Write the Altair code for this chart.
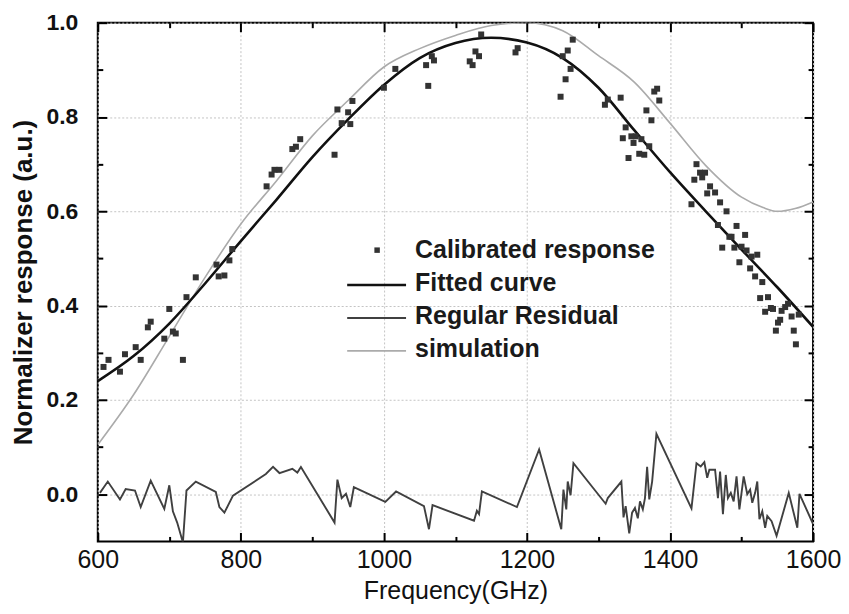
import altair as alt
import pandas as pd

# ---------------- data ----------------
cal_freq = [608, 615, 631, 638, 653, 660, 670, 674, 693, 700, 705, 709, 719, 724, 737, 766, 769, 777, 784, 788,
            836, 843, 847, 854, 872, 877, 883,
            931, 935, 941, 950, 953, 956, 1000, 1016, 1059, 1062, 1067, 1070, 1120, 1124, 1128, 1133, 1136,
            1184, 1187, 1247, 1250, 1254, 1257, 1261, 1264,
            1309, 1313, 1331, 1338, 1334, 1342, 1346, 1349, 1352, 1357, 1360, 1364, 1367, 1371, 1374, 1378, 1382, 1385,
            1430, 1434, 1437, 1442, 1445, 1449, 1452, 1456, 1463, 1470, 1479, 1467, 1493, 1483, 1486, 1505, 1473, 1490, 1500,
            1507, 1514, 1522, 1497, 1512, 1519, 1529, 1526, 1537, 1541, 1544, 1533, 1556, 1561, 1565, 1570, 1580,
            1551, 1554, 1548, 1573, 1576]
cal_resp = [0.27, 0.285, 0.26, 0.297, 0.312, 0.285, 0.354, 0.366, 0.33, 0.393, 0.345, 0.341, 0.285, 0.418, 0.46, 0.487, 0.462, 0.464, 0.496, 0.52,
            0.653, 0.678, 0.688, 0.688, 0.732, 0.737, 0.753,
            0.72, 0.816, 0.787, 0.81, 0.785, 0.834, 0.862, 0.902, 0.91, 0.866, 0.929, 0.92, 0.918, 0.91, 0.939, 0.929, 0.975,
            0.937, 0.946, 0.843, 0.929, 0.88, 0.941, 0.902, 0.964,
            0.826, 0.837, 0.841, 0.778, 0.755, 0.713, 0.759, 0.745, 0.759, 0.722, 0.753, 0.72, 0.814, 0.738, 0.793, 0.854, 0.86, 0.835,
            0.615, 0.667, 0.7, 0.682, 0.672, 0.682, 0.638, 0.653, 0.64, 0.619, 0.6, 0.571, 0.569, 0.546, 0.546, 0.55, 0.523, 0.523, 0.525,
            0.517, 0.504, 0.508, 0.492, 0.479, 0.462, 0.45, 0.416, 0.418, 0.395, 0.393, 0.387, 0.389, 0.397, 0.404, 0.377, 0.381,
            0.364, 0.37, 0.347, 0.347, 0.318]

fit_freq = [600, 650, 700, 750, 800, 850, 900, 950, 1000, 1050, 1100, 1150, 1200, 1250, 1300, 1350, 1400, 1450, 1500, 1550, 1600]
fit_resp = [0.24, 0.293, 0.362, 0.447, 0.537, 0.625, 0.715, 0.795, 0.868, 0.925, 0.957, 0.968, 0.958, 0.925, 0.862, 0.772, 0.683, 0.600, 0.519, 0.439, 0.355]

sim_freq = [600, 650, 700, 750, 800, 850, 900, 950, 1000, 1050, 1100, 1150, 1200, 1250, 1300, 1350, 1400, 1450, 1500, 1530, 1550, 1575, 1600]
sim_resp = [0.105, 0.211, 0.335, 0.46, 0.573, 0.665, 0.76, 0.835, 0.906, 0.945, 0.973, 0.994, 1.0, 0.983, 0.93, 0.874, 0.787, 0.697, 0.63, 0.608, 0.60, 0.606, 0.62]

res_freq = [603, 614, 631, 639, 652, 660, 674, 693, 700, 705, 711, 719, 724, 737, 765, 770, 777, 789, 835, 845, 854, 872, 879, 884,
            931, 935, 941, 947, 953, 958, 1002, 1017, 1056, 1063, 1068, 1126, 1130, 1133, 1137, 1186, 1217, 1248, 1251, 1255,
            1257, 1261, 1265, 1310, 1313, 1332, 1335, 1338, 1343, 1347, 1351, 1355, 1358, 1362, 1365, 1368, 1371, 1375, 1381,
            1430, 1437, 1443, 1448, 1452, 1455, 1463, 1467, 1470, 1474, 1478, 1481, 1485, 1489, 1493, 1497, 1503, 1508, 1512,
            1515, 1519, 1522, 1525, 1529, 1533, 1536, 1542, 1549, 1566, 1578, 1581, 1600]
res_resp = [0.003, 0.027, -0.011, 0.011, 0.008, -0.027, 0.029, -0.031, 0.019, -0.036, -0.06, -0.102, 0.008, 0.027, 0.005, -0.027, -0.039, -0.003,
            0.043, 0.058, 0.045, 0.054, 0.046, 0.058,
            -0.06, 0.031, -0.008, 0.001, -0.027, 0.015, -0.016, 0.006, -0.025, -0.074, -0.023, -0.056, -0.035, -0.042, 0.006, -0.027,
            0.095, -0.074, 0.01, -0.032,
            0.027, -0.002, 0.066, -0.02, -0.008, 0.027, -0.049, -0.025, -0.083, -0.039, -0.029, -0.051, -0.015, -0.032, -0.008, 0.058,
            -0.011, 0.027, 0.128,
            -0.03, 0.066, 0.059, 0.068, 0.035, 0.052, 0.052, -0.008, 0.048, -0.042, 0.041, -0.008, 0.003, -0.015, 0.038, -0.032, 0.038,
            0.0, 0.01,
            -0.018, 0.003, 0.027, -0.053, -0.036, -0.071, -0.046, -0.057, -0.088, 0.003, -0.071, 0.001, -0.063]

x_major = [600, 800, 1000, 1200, 1400, 1600]
x_minor = [700, 900, 1100, 1300, 1500]
y_major = [0.0, 0.2, 0.4, 0.6, 0.8, 1.0]
y_minor = [0.1, 0.3, 0.5, 0.7, 0.9]

legend_labels = ["Calibrated response", "Fitted curve", "Regular Residual", "simulation"]

# ---------------- tables ----------------
cal_df = pd.DataFrame({"f": cal_freq, "v": cal_resp})
fit_df = pd.DataFrame({"f": fit_freq, "v": fit_resp})
sim_df = pd.DataFrame({"f": sim_freq, "v": sim_resp})
res_df = pd.DataFrame({"f": res_freq, "v": res_resp})

FONT = "Liberation Sans"
xs = alt.Scale(domain=[600, 1600], nice=False, zero=False)
ys = alt.Scale(domain=[-0.1, 1.0], nice=False, zero=False)

MAJ = 9
MIN = 5


def tick_axis(orient, values, size, labels=False, title=None, fmt=None, **kw):
    d = dict(orient=orient, values=values, tickSize=size, offset=-size, domain=False, grid=False,
             labels=labels, title=title, tickColor="black", tickWidth=2, zindex=1)
    if fmt:
        d["format"] = fmt
    d.update(kw)
    return alt.Axis(**d)


def grid_axis(orient, values):
    return alt.Axis(orient=orient, values=values, ticks=False, labels=False, domain=False, grid=True,
                    gridColor="#c4c4c4", gridDash=[2, 2], gridWidth=1, title=None)


# grid carrier (invisible)
grid_layer = alt.Chart(res_df).mark_line(opacity=0).encode(
    x=alt.X("f:Q", scale=xs, axis=grid_axis("bottom", x_major)),
    y=alt.Y("v:Q", scale=ys, axis=grid_axis("left", y_major)),
)

residual = alt.Chart(res_df).mark_line(color="#404040", strokeWidth=1.9, clip=True).encode(
    x=alt.X("f:Q", scale=xs, axis=tick_axis(
        "bottom", x_major, MAJ, labels=True, title="Frequency(GHz)", fmt="d",
        labelFont=FONT, labelFontSize=25, labelFontWeight="normal", labelColor="#111",
        labelPadding=6, labelFlush=False,
        titleFont=FONT, titleFontSize=25, titleFontWeight="normal", titleColor="#111", titlePadding=6)),
    y=alt.Y("v:Q", scale=ys, axis=tick_axis(
        "left", y_major, MAJ, labels=True, title="Normalizer response (a.u.)", fmt=".1f",
        labelFont=FONT, labelFontSize=23, labelFontWeight="bold", labelColor="#111",
        labelPadding=20, labelFlush=False,
        titleFont=FONT, titleFontSize=26, titleFontWeight="bold", titleColor="#111", titlePadding=9)),
)

fitted = alt.Chart(fit_df).mark_line(color="#111111", strokeWidth=2.6, interpolate="monotone", clip=True).encode(
    x=alt.X("f:Q", scale=xs, axis=tick_axis("bottom", x_minor, MIN)),
    y=alt.Y("v:Q", scale=ys, axis=tick_axis("left", y_minor, MIN)),
)

simulation = alt.Chart(sim_df).mark_line(color="#ababab", strokeWidth=1.6, interpolate="monotone", clip=True).encode(
    x=alt.X("f:Q", scale=xs, axis=tick_axis("top", x_major, MAJ)),
    y=alt.Y("v:Q", scale=ys, axis=tick_axis("right", y_major, MAJ)),
)

points = alt.Chart(cal_df).mark_point(shape="square", filled=True, size=36, color="#333333", opacity=1).encode(
    x=alt.X("f:Q", scale=xs, axis=tick_axis("top", x_minor, MIN)),
    y=alt.Y("v:Q", scale=ys, axis=tick_axis("right", y_minor, MIN)),
)

# ---------------- manual legend (pixel positions inside the plot) ----------------
LX_TEXT = 318
LX0, LX1 = 250, 309
rows = [228, 261, 294, 327]
line_styles = [None, ("#111111", 2.6), ("#404040", 1.9), ("#ababab", 1.6)]

legend_layers = []
for i, lab in enumerate(legend_labels):
    one = pd.DataFrame({"label": [lab]})
    legend_layers.append(
        alt.Chart(one).mark_text(align="left", baseline="middle", font=FONT, fontSize=25,
                                 fontWeight="bold", color="#1a1a1a").encode(
            x=alt.value(LX_TEXT), y=alt.value(rows[i]), text="label:N")
    )
    if line_styles[i] is None:
        legend_layers.append(
            alt.Chart(one).mark_point(shape="square", filled=True, size=30, color="#333333", opacity=1).encode(
                x=alt.value(280), y=alt.value(rows[i]))
        )
    else:
        col, sw = line_styles[i]
        legend_layers.append(
            alt.Chart(one).mark_rule(color=col, strokeWidth=sw).encode(
                x=alt.value(LX0), x2=alt.value(LX1), y=alt.value(rows[i] + 2))
        )

chart = alt.layer(grid_layer, simulation, fitted, residual, points, *legend_layers).resolve_axis(
    x="independent", y="independent"
).properties(
    width=717, height=520,
    autosize=alt.AutoSizeParams(type="none"),
    padding={"left": 90, "top": 14, "right": 28, "bottom": 68},
    background="white",
).configure_view(stroke="black", strokeWidth=2)

chart.save("out.html", embed_options={"renderer": "svg", "actions": False})
